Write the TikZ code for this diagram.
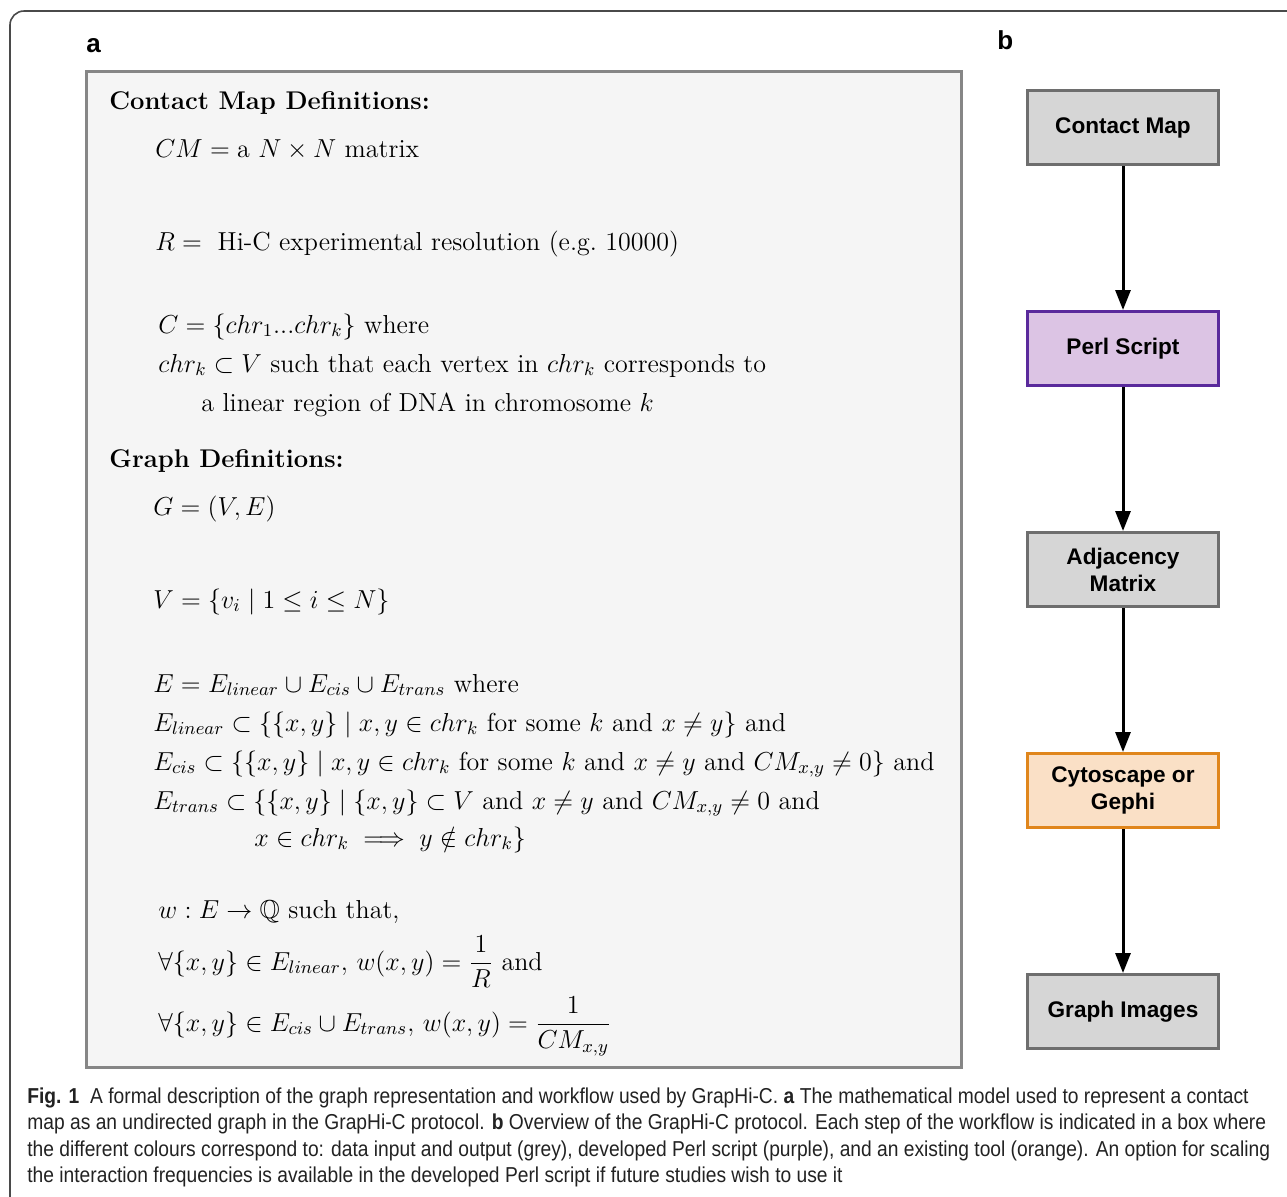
\RequirePackage{fix-cm}
\documentclass[tikz,border=0pt]{standalone}
\usepackage{amsmath,amssymb}
\usepackage{fontspec}
\setsansfont{Liberation Sans}
\newfontfamily\capfont[FakeStretch=0.89]{Liberation Sans}
\usetikzlibrary{arrows.meta,positioning}

\definecolor{framegrey}{HTML}{4A4A4A}
\definecolor{panelfill}{HTML}{F5F5F5}
\definecolor{panelline}{HTML}{868686}
\definecolor{iofill}{HTML}{D6D6D6}
\definecolor{ioline}{HTML}{6E6E6E}
\definecolor{perlfill}{HTML}{DCC4E4}
\definecolor{perlline}{HTML}{5A2A9C}
\definecolor{toolfill}{HTML}{FAE0C6}
\definecolor{toolline}{HTML}{E0861C}
\definecolor{captext}{HTML}{222222}

\tikzset{
  defhead/.style={anchor=base west, inner sep=0pt, font=\fontsize{12.8}{15}\selectfont\bfseries},
  deftext/.style={anchor=base west, inner sep=0pt, font=\fontsize{13}{16}\selectfont},
  panellabel/.style={anchor=base west, inner sep=0pt, font=\fontsize{13}{15}\selectfont\sffamily\bfseries},
  flowbox/.style={draw, line width=1.5pt, minimum width=95.5pt, minimum height=37pt, align=center,
    font=\fontsize{11.3}{13.5}\selectfont\sffamily\bfseries},
  iobox/.style={flowbox, fill=iofill, draw=ioline},
  perlbox/.style={flowbox, fill=perlfill, draw=perlline},
  toolbox/.style={flowbox, fill=toolfill, draw=toolline},
  flowarrow/.style={line width=1.5pt, -{Triangle[width=7.5pt,length=10pt]}},
}

\begin{document}
\begin{tikzpicture}[x=0.5pt, y=-0.5pt, node distance=72pt]
  %%%%% START %%%%%
  \useasboundingbox (0,0) rectangle (1287,1196);
  \begin{scope}
    \clip (0,0) rectangle (1287,1196);
    \draw[framegrey, line width=0.8pt, rounded corners=7pt] (10,11) rectangle (1320,1215);
  \end{scope}

  % panel a
  \node[panellabel] (labela) at (86,52) {a};
  \draw[panelline, fill=panelfill, line width=1.5pt] (86,71) rectangle (961,1067);

  \node[defhead] (cmhead) at (109,109) {Contact Map Definitions:};
  \node[deftext] (cmdef) at (155,157) {$CM = \text{a } N \times N \text{ matrix}$};
  \node[deftext] (resdef) at (155,250) {$R =$\; Hi-C experimental resolution (e.g.\ 10000)};
  \node[deftext] (chrset) at (158,333) {$C = \{chr_1...chr_k\}$ where};
  \node[deftext] (chrsub) at (158,372) {$chr_k \subset V$ such that each vertex in $chr_k$ corresponds to};
  \node[deftext] (chrsubb) at (201,411) {a linear region of DNA in chromosome $k$};

  \node[defhead] (ghead) at (109,467) {Graph Definitions:};
  \node[deftext] (gdef) at (153,515) {$G = (V, E)$};
  \node[deftext] (vdef) at (153,608) {$V = \{v_i \mid 1 \leq i \leq N\}$};
  \node[deftext] (edef) at (153,692) {$E = E_{linear} \cup E_{cis} \cup E_{trans}$ where};
  \node[deftext] (elin) at (153,731) {$E_{linear} \subset \{\{x,y\} \mid x, y \in chr_k$ for some $k$ and $x \neq y\}$ and};
  \node[deftext] (ecis) at (153,770) {$E_{cis} \subset \{\{x,y\} \mid x, y \in chr_k$ for some $k$ and $x \neq y$ and $CM_{x,y} \neq 0\}$ and};
  \node[deftext] (etrans) at (153,809) {$E_{trans} \subset \{\{x,y\} \mid \{x,y\} \subset V$ and $x \neq y$ and $CM_{x,y} \neq 0$ and};
  \node[deftext] (etransb) at (254,846) {$x \in chr_k \implies y \notin chr_k\}$};
  \node[deftext] (wdef) at (158,918) {$w : E \rightarrow \mathbb{Q}$ such that,};
  \node[deftext] (wlin) at (158,970) {$\forall \{x,y\} \in E_{linear},\, w(x,y) = \dfrac{1}{R}$ and};
  \node[deftext] (wcis) at (158,1031) {$\forall \{x,y\} \in E_{cis} \cup E_{trans},\, w(x,y) = \dfrac{1}{CM_{x,y}}$};

  % panel b
  \node[panellabel] (labelb) at (997,49) {b};
  \node[iobox] (cmap) at (1123,127.5) {Contact Map};
  \node[perlbox, below=of cmap] (perl) {Perl Script};
  \node[iobox, below=of perl] (adj) {Adjacency\\Matrix};
  \node[toolbox, below=of adj] (cyto) {Cytoscape or\\Gephi};
  \node[iobox, below=of cyto] (gimg) {Graph Images};

  \draw[flowarrow] (cmap) -- (perl);
  \draw[flowarrow] (perl) -- (adj);
  \draw[flowarrow] (adj) -- (cyto);
  \draw[flowarrow] (cyto) -- (gimg);

  % caption
  \node[anchor=north west, inner sep=0pt, align=left, text=captext,
    font=\capfont\fontsize{10.8}{13.25}\selectfont] (caption) at (27,1087) {%
    \textbf{Fig. 1}\enspace A formal description of the graph representation and workflow used by GrapHi-C. \textbf{a} The mathematical model used to represent a contact\\
    map as an undirected graph in the GrapHi-C protocol. \textbf{b} Overview of the GrapHi-C protocol. Each step of the workflow is indicated in a box where\\
    the different colours correspond to: data input and output (grey), developed Perl script (purple), and an existing tool (orange). An option for scaling\\
    the interaction frequencies is available in the developed Perl script if future studies wish to use it};
  %%%%% END %%%%%
\end{tikzpicture}
\end{document}
